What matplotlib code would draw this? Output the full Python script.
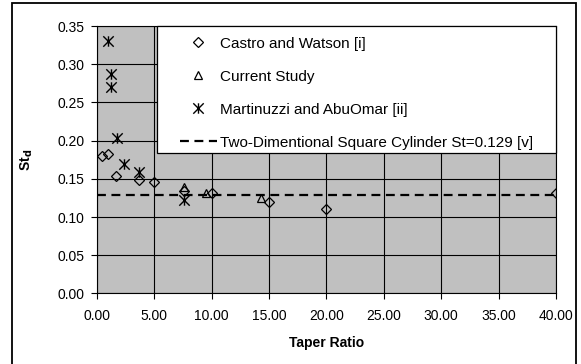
import matplotlib.pyplot as plt
from matplotlib.path import Path
from matplotlib.patches import Rectangle

plt.rcParams['font.family'] = ['Liberation Sans', 'DejaVu Sans']

# Castro and Watson [i]
castro_x = [0.5, 1.0, 1.65, 3.7, 5.0, 7.6, 10.0, 15.0, 20.0, 40.0]
castro_y = [0.180, 0.182, 0.154, 0.148, 0.146, 0.134, 0.132, 0.119, 0.111, 0.132]
# Current Study
current_x = [7.6, 9.5, 14.3]
current_y = [0.139, 0.132, 0.125]
# Martinuzzi and AbuOmar [ii]
martin_x = [1.0, 1.25, 1.25, 1.8, 2.4, 3.7, 7.6]
martin_y = [0.330, 0.287, 0.270, 0.203, 0.170, 0.159, 0.122]
# 2D square cylinder
st_2d = 0.129

# excel style star: X with a vertical bar
star = Path([(-1, -1), (1, 1), (-1, 1), (1, -1), (0, -1), (0, 1)],
            [Path.MOVETO, Path.LINETO, Path.MOVETO, Path.LINETO, Path.MOVETO, Path.LINETO])

fig = plt.figure(figsize=(5.81, 3.64), dpi=100)
fig.patch.set_facecolor('white')
# outer chart border (bottom edge falls outside the image)
fig.patches.append(Rectangle((0.0215, -0.05), 0.97, 1.0405, transform=fig.transFigure,
                             fill=False, edgecolor='black', linewidth=1.3))
ax = fig.add_axes([0.1664, 0.194, 0.7906, 0.7344])
ax.set_facecolor('#c0c0c0')

ax.plot(castro_x, castro_y, linestyle='none', marker='D', markersize=5,
        markerfacecolor='none', markeredgecolor='black', markeredgewidth=0.9,
        label='Castro and Watson [i]')
ax.plot(current_x, current_y, linestyle='none', marker='^', markersize=6,
        markerfacecolor='none', markeredgecolor='black', markeredgewidth=0.9,
        label='Current Study')
ax.plot(martin_x, martin_y, linestyle='none', marker=star, markersize=7.5,
        markeredgecolor='black', markeredgewidth=1.0,
        label='Martinuzzi and AbuOmar [ii]')
ax.axhline(st_2d, color='black', linestyle=(0, (4, 2.5)), linewidth=1.6,
           label='Two-Dimentional Square Cylinder St=0.129 [v]')

ax.set_xlim(0, 40)
ax.set_ylim(0, 0.35)
ax.set_xticks([0, 5, 10, 15, 20, 25, 30, 35, 40])
ax.set_yticks([0, 0.05, 0.10, 0.15, 0.20, 0.25, 0.30, 0.35])
ax.set_xticklabels(['%.2f' % v for v in ax.get_xticks()])
ax.set_yticklabels(['%.2f' % v for v in ax.get_yticks()])
ax.grid(True, color='black', linewidth=0.8)
ax.set_axisbelow(True)
ax.tick_params(labelsize=10, direction='out', length=4, color='black')
ax.tick_params(axis='x', pad=7.5)
ax.tick_params(axis='y', pad=4.5)
for s in ax.spines.values():
    s.set_color('black')
    s.set_linewidth(0.8)

ax.set_xlabel('Taper Ratio', fontsize=10, fontweight='bold')
ax.set_ylabel('St$_\\mathbf{d}$', fontsize=10, fontweight='bold')
ax.xaxis.set_label_coords(0.5, -0.160)
ax.yaxis.set_label_coords(-0.134, 0.5)

# legend box drawn by hand so the padding matches
ax.add_patch(Rectangle((0.1313, 0.525), 0.8687, 0.4765, transform=ax.transAxes,
                       facecolor='white', edgecolor='black', linewidth=0.9,
                       zorder=4, clip_on=False))
leg = ax.legend(loc='upper left', bbox_to_anchor=(0.1814, 0.960), borderaxespad=0,
                borderpad=0, fontsize=11, frameon=False,
                labelspacing=1.24, handlelength=2.4, handletextpad=0.25,
                numpoints=1)
leg.set_zorder(5)

fig.savefig('out.png', dpi=100)
